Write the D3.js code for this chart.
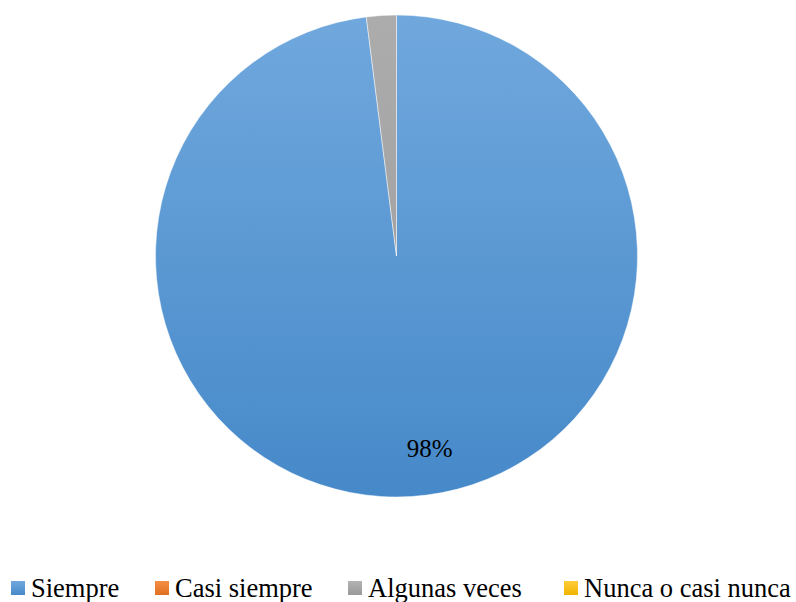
<!DOCTYPE html>
<html><head><meta charset="utf-8">
<script src="https://cdn.jsdelivr.net/npm/d3@7"></script>
<style>html,body{margin:0;padding:0;background:#fff}svg{display:block}</style>
</head><body>
<script>
const categories = ["Siempre", "Casi siempre", "Algunas veces", "Nunca o casi nunca"];
const values = [98, 0, 2, 0];
const labels = ["98%", "", "", ""];
const colorsTop = ["#70a8dd", "#f58e45", "#b3b3b3", "#ffcd3a"];
const colorsBottom = ["#4689c9", "#e07020", "#999999", "#f0b400"];
const FONT = '"Liberation Serif"';

const W = 796, H = 602;
const svg = d3.select("body").append("svg").attr("width", W).attr("height", H);
const defs = svg.append("defs");
categories.forEach((c, i) => {
  const g = defs.append("linearGradient").attr("id", "g" + i)
    .attr("x1", 0).attr("y1", 0).attr("x2", 0).attr("y2", 1);
  g.append("stop").attr("offset", "0%").attr("stop-color", colorsTop[i]);
  g.append("stop").attr("offset", "100%").attr("stop-color", colorsBottom[i]);
});
const cx = 396.5, cy = 256, r = 241;
const pieG = defs.append("linearGradient").attr("id", "pg0").attr("gradientUnits", "userSpaceOnUse")
  .attr("x1", 0).attr("y1", -r).attr("x2", 0).attr("y2", r);
pieG.append("stop").attr("offset", "0%").attr("stop-color", colorsTop[0]);
pieG.append("stop").attr("offset", "100%").attr("stop-color", colorsBottom[0]);
const pieG2 = defs.append("linearGradient").attr("id", "pg2").attr("gradientUnits", "userSpaceOnUse")
  .attr("x1", 0).attr("y1", -r).attr("x2", 0).attr("y2", r);
pieG2.append("stop").attr("offset", "0%").attr("stop-color", "#acacac");
pieG2.append("stop").attr("offset", "100%").attr("stop-color", "#9a9a9a");

const pie = d3.pie().sort(null).value(d => d)(values);
const arc = d3.arc().innerRadius(0).outerRadius(r);
const g = svg.append("g").attr("transform", `translate(${cx},${cy})`);
g.selectAll("path").data(pie.filter(d => d.value > 0)).enter().append("path")
  .attr("d", arc)
  .attr("fill", d => d.index === 0 ? "url(#pg0)" : "url(#pg2)")
  .attr("stroke", "#ffffff").attr("stroke-width", 0.8).attr("stroke-opacity", 0.6);

const labelArc = d3.arc().innerRadius(r * 0.8).outerRadius(r * 0.8);
g.selectAll("text.lbl").data(pie.filter(d => labels[d.index])).enter().append("text")
  .attr("class", "lbl")
  .attr("transform", d => { const p = labelArc.centroid(d); return `translate(${p[0] + 21},${p[1]})`; })
  .attr("text-anchor", "middle").attr("dy", "0.35em")
  .style("font-family", FONT).attr("font-size", 25).attr("fill", "#000")
  .text(d => labels[d.index]);

const legendX = [11, 155, 348, 564];
const leg = svg.append("g");
categories.forEach((c, i) => {
  leg.append("rect").attr("x", legendX[i]).attr("y", 581).attr("width", 14).attr("height", 14)
    .attr("fill", `url(#g${i})`);
  leg.append("text").attr("x", legendX[i] + 20).attr("y", 597)
    .style("font-family", FONT).attr("font-size", 26.5).attr("fill", "#000").text(c);
});
</script>
</body></html>
